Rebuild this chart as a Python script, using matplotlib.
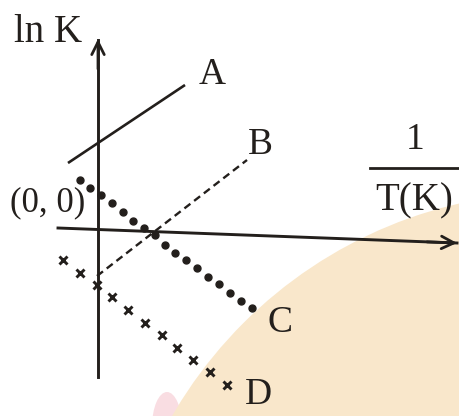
import matplotlib
matplotlib.use("Agg")
import matplotlib.pyplot as plt
from matplotlib.patches import Circle, Ellipse

# Coordinates: 1 unit = 10 px, origin at axis intersection
# Axes endpoints
yaxis_u = [0.0, 0.0]
yaxis_v = [-14.8, 19.0]
xaxis_u = [-4.0, 35.9]
xaxis_v = [0.1, -1.4]

# Line A (solid)
A_u = [-3.0, 8.7]
A_v = [6.6, 14.4]
# Line B (dashed)
B_u = [-0.1, 14.9]
B_v = [-4.7, 6.9]
# Line C (dots)
C_u = [-1.8, -0.8, 0.3, 1.4, 2.5, 3.5, 4.6, 5.7, 6.7, 7.7, 8.8, 9.9, 11.0, 12.1, 13.2, 14.3, 15.4]
C_v = [4.9, 4.1, 3.4, 2.6, 1.7, 0.8, 0.1, -0.6, -1.6, -2.4, -3.1, -3.9, -4.8, -5.5, -6.4, -7.2, -7.9]
# Line D (crosses)
D_u = [-3.5, -1.8, -0.1, 1.4, 3.0, 4.7, 6.4, 7.9, 9.5, 11.2, 12.9]
D_v = [-3.1, -4.4, -5.6, -6.8, -8.1, -9.4, -10.6, -11.9, -13.1, -14.3, -15.6]

labels = ["A", "B", "C", "D"]
label_u = [11.4, 16.2, 18.2, 16.0]
label_v = [15.4, 8.4, -9.4, -16.6]

ink = "#231f1c"
peach = "#f9e7cb"
pink = "#f9dde2"

fig = plt.figure(figsize=(4.6, 4.16), dpi=100)
ax = fig.add_axes([0, 0, 1, 1])
ax.set_xlim(-9.8, 36.2)
ax.set_ylim(-18.7, 22.9)
ax.axis("off")

# background wash
ax.add_patch(Ellipse((6.9, -19.8), 3.0, 7.0, color=pink, zorder=0, lw=0))
ax.add_patch(Circle((46.2, -41.1), 44.8, color=peach, zorder=0.5, lw=0))

# axes arrows
ax.plot(yaxis_u, [yaxis_v[0], yaxis_v[1] - 0.1], color=ink, lw=2.1, zorder=2)
ax.annotate("", xy=(yaxis_u[1], yaxis_v[1]), xytext=(yaxis_u[0], yaxis_v[1] - 3),
            arrowprops=dict(arrowstyle="->,head_length=0.9,head_width=0.45",
                            lw=2.0, color=ink, shrinkA=0, shrinkB=0), zorder=2)
ax.plot(xaxis_u, xaxis_v, color=ink, lw=2.1, zorder=2)
ax.annotate("", xy=(xaxis_u[1], xaxis_v[1]), xytext=(xaxis_u[1] - 3, xaxis_v[1] + 0.11),
            arrowprops=dict(arrowstyle="->,head_length=0.9,head_width=0.45",
                            lw=2.0, color=ink, shrinkA=0, shrinkB=0), zorder=2)

# lines
ax.plot(A_u, A_v, color=ink, lw=1.9, zorder=3, solid_capstyle="butt")
ax.plot(B_u, B_v, color=ink, lw=1.7, dashes=(3.2, 2.0), zorder=3)
ax.plot(C_u, C_v, linestyle="none", marker="o", ms=5.0, color=ink, zorder=3)
ax.plot(D_u, D_v, linestyle="none", marker="x", ms=5.5, mew=2.1, color=ink, zorder=3)

font = ["Liberation Serif", "DejaVu Serif"]
for lab, u, v in zip(labels, label_u, label_v):
    ax.text(u, v, lab, fontsize=27, family=font, color=ink, ha="center", va="center", zorder=4)

ax.text(-5.0, 19.6, "ln K", fontsize=28, family=font, color=ink, ha="center", va="center")
ax.text(-5.0, 2.6, "(0, 0)", fontsize=25, family=font, color=ink, ha="center", va="center")
ax.text(31.7, 8.9, "1", fontsize=27, family=font, color=ink, ha="center", va="center")
ax.plot([27.2, 36.2], [6.1, 6.1], color=ink, lw=2.0)
ax.text(31.6, 2.8, "T(K)", fontsize=28, family=font, color=ink, ha="center", va="center")

fig.savefig("out.png", dpi=100)
